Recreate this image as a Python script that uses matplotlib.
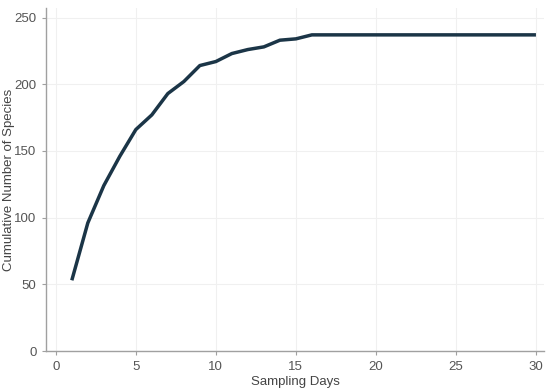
import matplotlib
matplotlib.use('Agg')
import matplotlib.pyplot as plt

plt.rcParams['font.family'] = ['Liberation Sans', 'DejaVu Sans']

# Data
days = list(range(1, 31))
species = [53, 96, 124, 146, 166, 177, 193, 202, 214, 217,
           223, 226, 228, 233, 234, 237, 237, 237, 237, 237,
           237, 237, 237, 237, 237, 237, 237, 237, 237, 237]
x_ticks = [0, 5, 10, 15, 20, 25, 30]
y_ticks = [0, 50, 100, 150, 200, 250]

fig = plt.figure(figsize=(5.5, 3.9), dpi=100)
ax = fig.add_axes([0.084, 0.10, 0.905, 0.879])

ax.plot(days, species, color='#1b3547', linewidth=2.5, solid_capstyle='butt')

ax.set_xlim(-0.6, 30.5)
ax.set_ylim(0, 257)
ax.set_xticks(x_ticks)
ax.set_yticks(y_ticks)
ax.grid(True, color='#f0f0f0', linewidth=0.8)
ax.set_axisbelow(True)

for s in ['top', 'right']:
    ax.spines[s].set_visible(False)
for s in ['left', 'bottom']:
    ax.spines[s].set_color('#a0a0a0')
    ax.spines[s].set_linewidth(1.0)

ax.tick_params(colors='#a0a0a0', labelcolor='#555555', labelsize=9.5, length=3, pad=4)
ax.set_xlabel('Sampling Days', fontsize=9.5, color='#444444', labelpad=2)
ax.set_ylabel('Cumulative Number of Species', fontsize=9.5, color='#444444')
ax.yaxis.set_label_coords(-0.063, 0.5)

fig.savefig('out.png', dpi=100)
